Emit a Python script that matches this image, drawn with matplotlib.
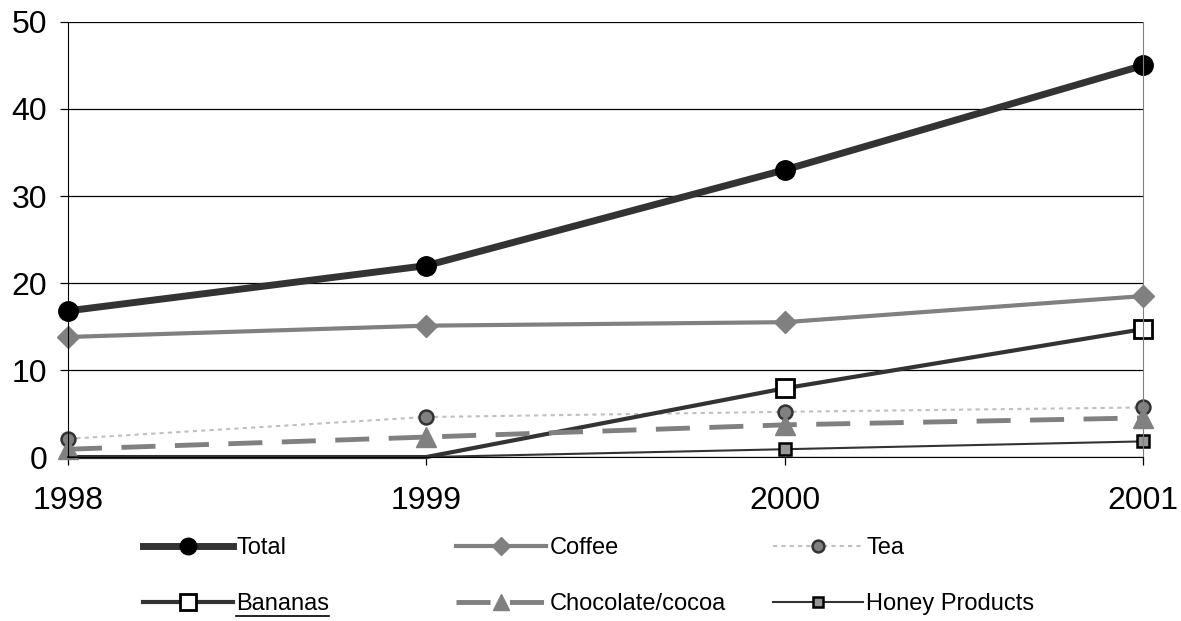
import matplotlib
matplotlib.use('Agg')
import matplotlib.pyplot as plt
from matplotlib.lines import Line2D

plt.rcParams['font.family'] = ['Liberation Sans', 'DejaVu Sans']

years = [1998, 1999, 2000, 2001]
total = [16.8, 22.0, 33.0, 45.0]
coffee = [13.8, 15.1, 15.5, 18.5]
tea = [2.1, 4.6, 5.2, 5.7]
bananas = [0.0, 0.0, 7.9, 14.7]
chocolate = [0.9, 2.3, 3.7, 4.5]
honey = [0.0, 0.0, 0.9, 1.8]

fig = plt.figure(figsize=(11.81, 6.21), dpi=100)
ax = fig.add_axes([0.0576, 0.264, 0.9102, 0.7006])

# series styles: (values, label, line kwargs)
series = [
    (total, 'Total', dict(color='#333333', lw=5, marker='o', ms=14,
                          mfc='black', mec='black')),
    (coffee, 'Coffee', dict(color='#808080', lw=3, marker='D', ms=11,
                            mfc='#808080', mec='#808080')),
    (tea, 'Tea', dict(color='#c0c0c0', lw=1.5, ls=(0, (2, 2)), marker='o', ms=10,
                      mfc='#808080', mec='#333333', mew=1.8)),
    (bananas, 'Bananas', dict(color='#333333', lw=3, marker='s', ms=13,
                              mfc='white', mec='black', mew=2)),
    (chocolate, 'Chocolate/cocoa', dict(color='#808080', lw=3.5, ls=(0, (7, 4)),
                                        marker='^', ms=14, mfc='#808080', mec='#808080')),
    (honey, 'Honey Products', dict(color='#333333', lw=1.5, marker='s', ms=9,
                                   mfc='#969696', mec='black', mew=1.8)),
]

handles = {}
for vals, name, kw in series:
    # no marker where the value is zero
    marks = [i for i, v in enumerate(vals) if v != 0]
    h, = ax.plot(years, vals, label=name, clip_on=False, markevery=marks, **kw)
    handles[name] = h

ax.set_xlim(1998, 2001)
ax.set_ylim(0, 50)
ax.set_xticks(years)
ax.set_yticks(range(0, 51, 10))
ax.yaxis.grid(True, color='black', lw=0.9)
ax.set_axisbelow(True)
ax.spines['top'].set_visible(False)
ax.spines['right'].set_color('#808080')
ax.spines['left'].set_color('black')
ax.spines['bottom'].set_color('black')
ax.tick_params(axis='both', direction='out', length=6, width=0.9,
               labelsize=23, colors='black')
ax.tick_params(axis='y', pad=9)
ax.tick_params(axis='x', pad=15)

# legend laid out as three fixed-width columns
columns = [('Total', 'Bananas'), ('Coffee', 'Chocolate/cocoa'), ('Tea', 'Honey Products')]
col_x = [143 / 1181, 456 / 1181, 773 / 1181]
legs = []
for names, x in zip(columns, col_x):
    leg = fig.legend([handles[n] for n in names], names, loc='center left',
                     bbox_to_anchor=(x, 0.0725), frameon=False, fontsize=17,
                     handlelength=3.8, handletextpad=0.15, labelspacing=1.45,
                     borderpad=0, borderaxespad=0, markerscale=0.85)
    legs.append(leg)

# underline under "Bananas"
fig.canvas.draw()
txt = legs[0].get_texts()[1]
bb = txt.get_window_extent().transformed(fig.transFigure.inverted())
fig.add_artist(Line2D([bb.x0, bb.x1], [bb.y0 - 0.002, bb.y0 - 0.002],
                      color='black', lw=1.2, transform=fig.transFigure))

fig.savefig('out.png', dpi=100)
